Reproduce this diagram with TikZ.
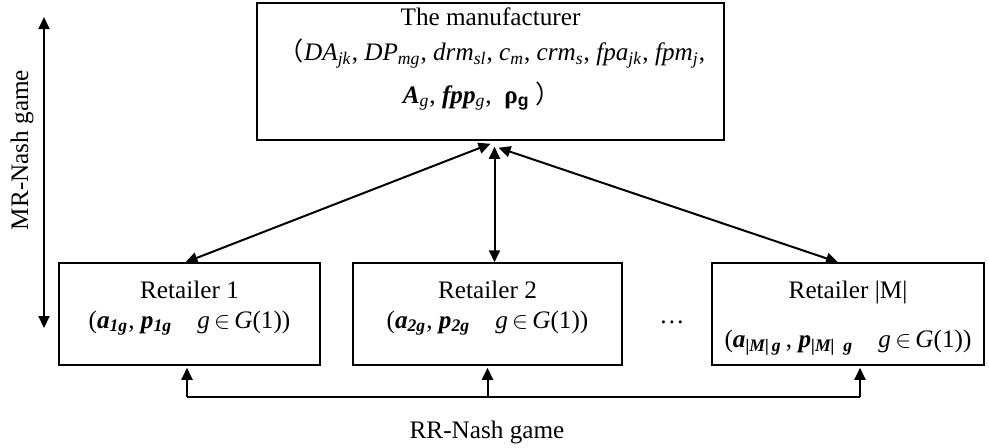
\documentclass[tikz,border=0pt]{standalone}
\usepackage{fontspec}
\setmainfont{Liberation Serif}
\newfontfamily\cjkfont{Noto Sans CJK SC}
\newfontfamily\sansbold{Liberation Sans}
\usepackage{tikz}
\usetikzlibrary{arrows.meta, positioning, calc}

\newcommand{\ix}[1]{\textsubscript{#1}}
\newcommand{\bfit}[1]{\textbf{\textit{#1}}}

\tikzset{
  box/.style={draw, line width=0.75pt, rectangle, inner sep=0pt},
  twoway/.style={{Triangle[length=6pt,width=5.5pt]}-{Triangle[length=6pt,width=5.5pt]}, line width=1pt},
  oneway/.style={-{Triangle[length=6pt,width=5.5pt]}, line width=1pt},
}

\begin{document}
\begin{tikzpicture}[x=0.5pt, y=-0.5pt, font=\fontsize{12.6}{15}\selectfont]
\useasboundingbox (0,0) rectangle (989,447);

% manufacturer on top
\node[box, minimum width=233.5pt, minimum height=68.5pt] (manu) at (490.5,71.5) {};
\node (manu1) at (490.5,17) {The manufacturer};
\node (manu2) at (492,54) {{\cjkfont （}\textit{DA}\ix{\textit{jk}}, \textit{DP}\ix{\textit{mg}}, \textit{drm}\ix{\textit{sl}}, \textit{c}\ix{\textit{m}}, \textit{crm}\ix{\textit{s}}, \textit{fpa}\ix{\textit{jk}}, \textit{fpm}\ix{\textit{j}},};
\node (manu3) at (482,96) {\bfit{A}\ix{\textit{g}}, \bfit{fpp}\ix{\textit{g}},\ \ \textbf{ρ}\ix{\sansbold\bfseries g}\ {\cjkfont ）}};

% retailers
\node[box, minimum width=130.5pt, minimum height=51pt] (r1) at (189.5,314) {};
\node[box, minimum width=134.5pt, minimum height=51pt] (r2) at (487.5,314) {};
\node[box, minimum width=136pt, minimum height=51pt] (r3) at (848,314) {};

\node (r1a) at (r1 |- 0,290) {Retailer 1};
\node (r1b) at (r1 |- 0,323) {(\bfit{a}\ix{\bfit{1g}}, \bfit{p}\ix{\bfit{1g}}\quad \textit{g}\,$\in$\,\textit{G}(1))};
\node (r2a) at (r2 |- 0,290) {Retailer 2};
\node (r2b) at (r2 |- 0,323) {(\bfit{a}\ix{\bfit{2g}}, \bfit{p}\ix{\bfit{2g}}\quad \textit{g}\,$\in$\,\textit{G}(1))};
\node (r3a) at (r3 |- 0,292) {Retailer |M|};
\node (r3b) at (r3 |- 0,343) {(\bfit{a}\ix{\bfit{|M|\,g}}\,, \bfit{p}\ix{\bfit{|M|\ \ g}}\quad \textit{g}\,$\in$\,\textit{G}(1))};
\node (dots) at (672,322) {…};

% MR-Nash game
\draw[twoway] ($(manu.south)+(0,3)$) -- ($(r1.north)+(-4,0)$);
\draw[twoway] ($(manu.south)+(4,6)$) -- ($(r2.north)+(7,0)$);
\draw[twoway] ($(manu.south)+(8,7)$) -- ($(r3.north)+(-10,0)$);
\coordinate (mrtop) at (44,17);
\coordinate (mrbot) at (44,328);
\draw[twoway] (mrtop) -- (mrbot);
\node[rotate=90] (mr) at (22,150) {MR-Nash game};

% RR-Nash game
\coordinate (rrl) at (187,397);
\coordinate (rrm) at (487.5,397);
\coordinate (rrr) at (860,397);
\draw[line width=1.2pt] (rrl) -- (rrr);
\draw[oneway] (rrl) -- ($(rrl |- r1.south)+(0,2)$);
\draw[oneway] (rrm) -- ($(rrm |- r2.south)+(0,2)$);
\draw[oneway] (rrr) -- ($(rrr |- r3.south)+(0,2)$);
\node (rr) at (487,432) {RR-Nash game};
\end{tikzpicture}
\end{document}
